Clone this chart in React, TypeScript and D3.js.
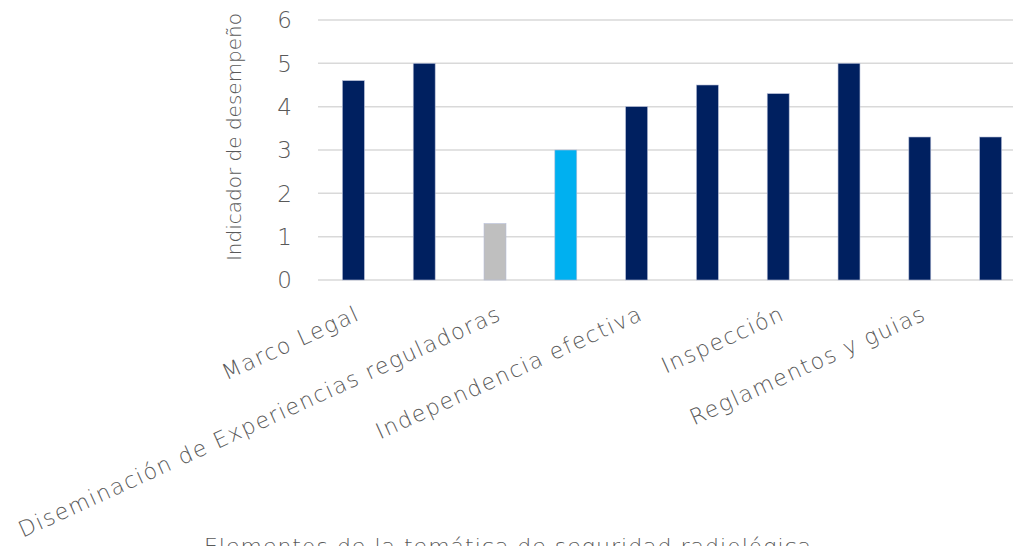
import React from "react";
import * as d3 from "d3";

const categories = [
  "Marco Legal",
  "",
  "Diseminación de Experiencias reguladoras",
  "",
  "Independencia efectiva",
  "",
  "Inspección",
  "",
  "Reglamentos y guias",
  "",
];
const values = [4.6, 5.0, 1.3, 3.0, 4.0, 4.5, 4.3, 5.0, 3.3, 3.3];
const barColors = ["#002060", "#002060", "#BFBFBF", "#00B0F0", "#002060", "#002060", "#002060", "#002060", "#002060", "#002060"];
const yTicks = [0, 1, 2, 3, 4, 5, 6];
const yTitle = "Indicador de desempeño";
const xTitle = "Elementos de la temática de seguridad radiológica";

const W = 1013;
const H = 546;
const FONT = "'DejaVu Sans', sans-serif";

export default function App() {
  const x = d3
    .scaleBand<number>()
    .domain(values.map((_, i) => i))
    .range([318, 1026])
    .paddingInner(0.69)
    .paddingOuter(0.345);
  const y = d3.scaleLinear().domain([0, 6]).range([280, 20]);

  return (
    <div style={{ position: "absolute", left: 0, top: 0 }}>
      <svg width={W} height={H} style={{ display: "block", background: "#fff" }}>
        {yTicks.map((t) => (
          <g key={t}>
            <line x1={318} x2={1026} y1={y(t)} y2={y(t)} stroke="#D9D9D9" strokeWidth={1.5} />
            <text
              x={292}
              y={y(t)}
              dy="0.36em"
              textAnchor="end"
              fontFamily={FONT}
              fontWeight={200}
              fontSize={23}
              fill="#595959"
            >
              {t}
            </text>
          </g>
        ))}
        {values.map((v, i) => (
          <rect
            key={i}
            x={x(i)}
            y={y(v)}
            width={x.bandwidth()}
            height={y(0) - y(v)}
            fill={barColors[i]}
            stroke="#B4BCD6"
            strokeWidth={0.6}
          />
        ))}
        {categories.map((c, i) =>
          c ? (
            <text
              key={i}
              transform={`translate(${(x(i) as number) + x.bandwidth() / 2 + 1},${304}) rotate(-24.5)`}
              textAnchor="end"
              dy="0.75em"
              fontFamily={FONT}
              fontWeight={200}
              fontSize={22}
              letterSpacing={1.5}
              fill="#595959"
            >
              {c}
            </text>
          ) : null
        )}
        <text
          transform={`translate(241,137) rotate(-90)`}
          textAnchor="middle"
          fontFamily={FONT}
          fontWeight={200}
          fontSize={20}
          fill="#595959"
        >
          {yTitle}
        </text>
        <text
          x={508}
          y={554}
          textAnchor="middle"
          fontFamily={FONT}
          fontWeight={200}
          fontSize={22}
          letterSpacing={1}
          fill="#595959"
        >
          {xTitle}
        </text>
      </svg>
    </div>
  );
}
